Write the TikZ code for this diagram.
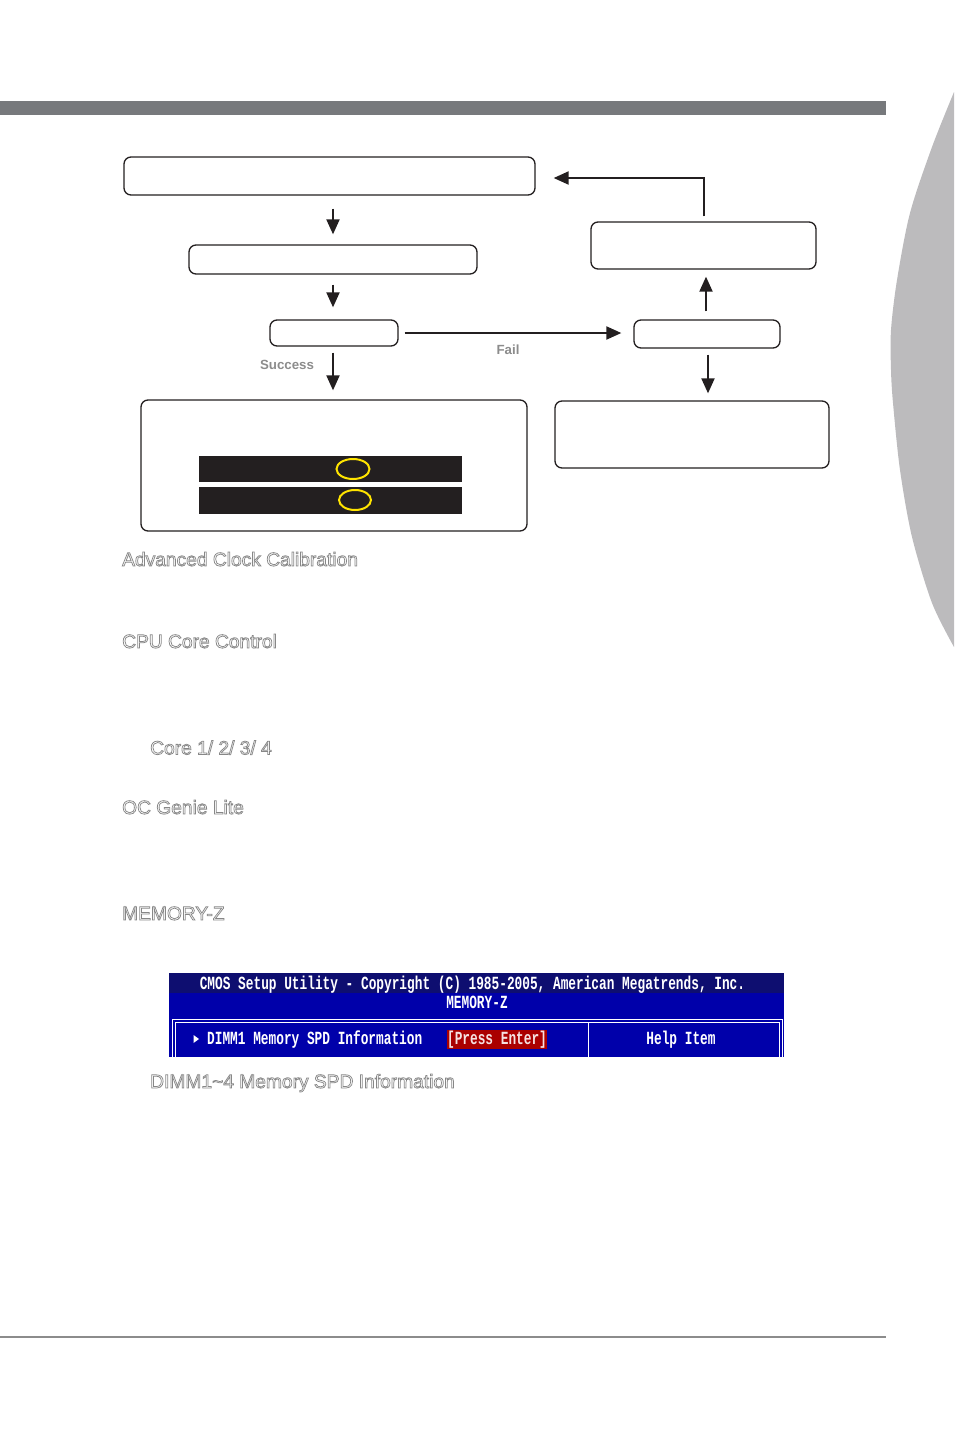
\documentclass[tikz,border=0pt]{standalone}
\usepackage{fontspec}
\setmainfont{Liberation Sans}
\newfontfamily\biosfont{Liberation Mono}
\usepackage{graphicx}
\usetikzlibrary{arrows.meta,calc}
\definecolor{barGray}{RGB}{119,121,124}
\definecolor{tabGray}{RGB}{188,187,189}
\definecolor{boxLine}{RGB}{35,31,32}
\definecolor{headGray}{RGB}{135,135,135}
\definecolor{lblGray}{RGB}{140,140,140}
\definecolor{biosBlue}{RGB}{0,0,170}
\definecolor{biosNavy}{RGB}{14,14,112}
\definecolor{biosRed}{RGB}{170,0,0}
\definecolor{pressText}{RGB}{245,225,225}
\definecolor{ovalYellow}{RGB}{255,228,0}
\newcommand\outl[1]{\special{pdf:literal direct 1 Tr 0.75 w}#1\special{pdf:literal direct 0 Tr}}
\newcommand\tallbios[1]{\scalebox{1}[1.45]{#1}}
\tikzset{
  fbox/.style={draw=boxLine, line width=1.3pt, rounded corners=7pt, inner sep=0pt, fill=white},
  arr/.style={-{Triangle[length=15pt,width=13pt]}, line width=2pt, draw=boxLine},
  head/.style={anchor=base west, inner sep=0pt, text=headGray, font=\fontsize{19.2}{23}\selectfont},
  lbl/.style={inner sep=0pt, text=lblGray, font=\fontsize{13.3}{15}\selectfont\bfseries},
  bios/.style={inner sep=0pt, text=white, font=\biosfont\bfseries\fontsize{12.8}{14}\selectfont},
}
\begin{document}
\begin{tikzpicture}[x=1pt,y=-1pt]
\useasboundingbox (0,0) rectangle (954,1430);
% page decorations
\fill[barGray] (0,101) rectangle (886,115);
\fill[tabGray] plot[smooth] coordinates {(954,92) (932,147) (910,213) (897,280) (891,330) (891,370) (893,403) (900,470) (912,537) (932,603) (954,647)} -- cycle;
\draw[lblGray, line width=1.2pt] (0,1337) -- (886,1337);

% flow chart boxes
\node[fbox, minimum width=411pt, minimum height=38pt] (A) at (329.5,176) {};
\node[fbox, minimum width=288pt, minimum height=29pt] (B) at (333,259.5) {};
\node[fbox, minimum width=128pt, minimum height=26pt] (C) at (334,333) {};
\node[fbox, minimum width=386pt, minimum height=131pt] (D) at (334,465.5) {};
\node[fbox, minimum width=146pt, minimum height=28pt] (E) at (707,334) {};
\node[fbox, minimum width=225pt, minimum height=47pt] (F) at (703.5,245.5) {};
\node[fbox, minimum width=274pt, minimum height=67pt] (G) at (692,434.5) {};

% dark bars with yellow ovals inside D
\fill[boxLine] (199,456) rectangle (462,482);
\fill[boxLine] (199,487) rectangle (462,514);
\draw[ovalYellow, line width=2pt] (353,469) ellipse [x radius=16.5pt, y radius=10pt];
\draw[ovalYellow, line width=2pt] (355,500) ellipse [x radius=16pt, y radius=10pt];

% connectors
\draw[arr, shorten <=13pt, shorten >=10pt] (A.south -| B.north) -- (B.north);
\draw[arr, shorten <=10pt, shorten >=12pt] (B.south) -- (B.south |- C.north);
\draw[arr, shorten <=6pt, shorten >=9pt] (C.south -| B.south) -- (B.south |- D.north);
\draw[arr, shorten <=6pt, shorten >=12pt] (C.east) -- (C.east -| E.west);
\draw[arr, shorten <=8pt, shorten >=7pt] ([xshift=-1pt]E.north) -- ([xshift=-1pt]E.north |- F.south);
\draw[arr, shorten <=6pt, shorten >=7pt] ([xshift=1pt]E.south) -- ([xshift=1pt]E.south |- G.north);
\draw[arr, shorten <=5pt, shorten >=18pt] (F.north) |- ([yshift=-2pt]A.east);

\node[lbl] (succ) at (287,365) {Success};
\node[lbl] (fail) at (508,350) {Fail};

% headings
\node[head] (h1) at (122,566) {\outl{Advanced Clock Calibration}};
\node[head] (h2) at (122,648) {\outl{CPU Core Control}};
\node[head] (h3) at (150,754.5) {\outl{Core 1/ 2/ 3/ 4}};
\node[head] (h4) at (122,814) {\outl{OC Genie Lite}};
\node[head] (h5) at (122,920) {\outl{MEMORY-Z}};
\node[head] (h6) at (150,1088) {\outl{DIMM1\textasciitilde 4 Memory SPD Information}};

% BIOS screenshot
\fill[biosBlue] (169,973) rectangle (784,1057);
\fill[biosNavy] (169,973) rectangle (784,993);
\draw[white, line width=1pt] (172,1057) -- (172,1019.5) -- (782,1019.5) -- (782,1057);
\draw[white, line width=1pt] (175,1057) -- (175,1022) -- (779.5,1022) -- (779.5,1057);
\draw[white, line width=1pt] (588,1022) -- (588,1057);
\node[bios] (cmos) at (472.5,984.5) {\tallbios{CMOS Setup Utility - Copyright (C) 1985-2005, American Megatrends, Inc.}};
\node[bios] (memz) at (477,1002.5) {\tallbios{MEMORY-Z}};
\fill[white] (193.5,1035) -- (199,1039) -- (193.5,1043) -- cycle;
\node[bios, anchor=west] (dimm) at (207,1039.5) {\tallbios{DIMM1 Memory SPD Information}};
\node[bios, fill=biosRed, minimum width=100pt, minimum height=19pt, text=pressText] (press) at (497,1039.5) {\tallbios{[Press Enter]}};
\node[bios] (help) at (681,1039.5) {\tallbios{Help Item}};
\end{tikzpicture}
\end{document}
